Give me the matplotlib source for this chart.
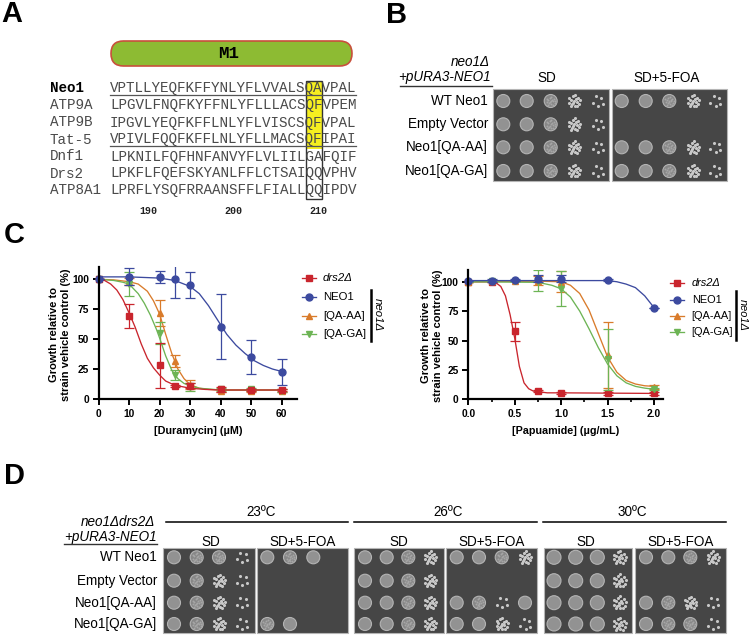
import matplotlib
matplotlib.use("Agg")
import matplotlib.pyplot as plt
from matplotlib.patches import Circle, FancyBboxPatch, Rectangle

plt.rcParams['font.family'] = ['Liberation Sans', 'DejaVu Sans']

# panel A alignment
seq_names = ["Neo1", "ATP9A", "ATP9B", "Tat-5", "Dnf1", "Drs2", "ATP8A1"]
seqs = ["VPTLLYEQFKFFYNLYFLVVALSQAVPAL",
        "LPGVLFNQFKYFFNLYFLLLACSQFVPEM",
        "IPGVLYEQFKFFLNLYFLVISCSQFVPAL",
        "VPIVLFQQFKFFLNLYFLLMACSQFIPAI",
        "LPKNILFQFHNFANVYFLVLIILGAFQIF",
        "LPKFLFQEFSKYANLFFLCTSAIQQVPHV",
        "LPRFLYSQFRRAANSFFLFIALLQQIPDV"]
seq_ticks = ["190", "200", "210"]

# spot assays: 0 none, 1 few colonies, 2 many colonies, 3 textured, 4 full, 5 faint
strains_b = ["WT Neo1", "Empty Vector", "Neo1[QA-AA]", "Neo1[QA-GA]"]
b_sd = [[4, 4, 3, 2, 1], [4, 4, 3, 2, 1], [4, 4, 3, 2, 1], [4, 4, 3, 2, 1]]
b_foa = [[4, 4, 3, 2, 1], [0, 0, 0, 0, 0], [4, 4, 3, 2, 1], [4, 4, 3, 2, 1]]
d_23_sd = [[4, 3, 3, 1], [4, 3, 2, 1], [4, 3, 2, 1], [4, 3, 2, 1]]
d_23_foa = [[4, 3, 5, 0], [0, 0, 0, 0], [0, 0, 0, 0], [3, 5, 0, 0]]
d_26_sd = [[4, 4, 3, 2], [4, 4, 3, 2], [4, 4, 3, 2], [4, 4, 3, 2]]
d_26_foa = [[4, 4, 3, 2], [0, 0, 0, 0], [4, 3, 1, 5], [4, 4, 2, 1]]
d_30_sd = [[4, 4, 4, 2], [4, 4, 4, 2], [4, 4, 4, 2], [4, 4, 4, 2]]
d_30_foa = [[4, 4, 3, 2], [0, 0, 0, 0], [4, 3, 2, 1], [4, 3, 3, 1]]

# panel C left, duramycin
dura_x = [0, 10, 20, 25, 30, 40, 50, 60]
dura_drs2 = [100, 69.5, 28, 11, 11, 8, 7.5, 7.5]
dura_drs2_err = [0, 10, 19, 1, 2, 2, 1, 1]
dura_neo1 = [100, 102, 102, 100, 95, 60.5, 35, 22.5]
dura_neo1_err = [0, 7, 5, 16, 11, 27, 14, 11]
dura_aa = [100, 98, 72, 32, 12, 7, 7, 7]
dura_aa_err = [0, 3, 11, 5, 4, 1, 1, 1]
dura_ga = [100, 96, 55, 20, 10, 8, 8, 7]
dura_ga_err = [0, 10, 9, 4, 3, 1, 1, 1]

# fitted curves
dura_drs2_cx = [0, 2, 4, 6, 8, 10, 12, 14, 16, 18, 20, 22, 25, 30, 35, 40, 60]
dura_drs2_cy = [100, 99, 96, 91, 83, 72, 60, 46, 34, 26, 20, 15, 11.5, 9, 8, 7.5, 7.5]
dura_neo1_cx = [0, 5, 10, 15, 20, 25, 30, 33, 36, 39, 42, 45, 48, 51, 54, 57, 60]
dura_neo1_cy = [102, 102, 102, 101.5, 101, 99, 94, 88, 78, 66, 54, 45, 38, 32, 28, 25, 23]
dura_aa_cx = [0, 5, 10, 13, 16, 18, 20, 22, 24, 26, 28, 30, 33, 36, 40, 60]
dura_aa_cy = [100, 99.5, 98, 96, 90, 82, 71, 54, 38, 25, 17, 12, 9, 8, 7.5, 7.5]
dura_ga_cx = [0, 5, 8, 10, 13, 15, 17, 19, 20, 22, 24, 26, 28, 30, 33, 40, 60]
dura_ga_cy = [100, 99, 97.5, 96, 88, 80, 70, 58, 51, 36, 24, 17, 13, 11, 9, 7.5, 7.5]

# panel C right, papuamide
papu_x = [0, 0.25, 0.5, 0.75, 1, 1.5, 2]
papu_drs2 = [100, 100, 58, 7, 5.5, 5, 5]
papu_drs2_err = [0, 0, 8, 1, 1, 1, 1]
papu_neo1 = [100.5, 101, 101.5, 102.5, 102.5, 101.5, 78]
papu_neo1_err = [0, 1, 1, 3, 3, 1, 0]
papu_aa = [100, 100.5, 101, 101, 100, 38, 10.5]
papu_aa_err = [0, 0, 0, 4, 9, 28, 2]
papu_ga = [100, 100.5, 101, 101, 94, 34, 9]
papu_ga_err = [0, 0, 0, 9, 15, 26, 1]

papu_drs2_cx = [0, 0.25, 0.3, 0.35, 0.4, 0.45, 0.5, 0.55, 0.6, 0.65, 0.7, 0.75, 0.85, 1, 2]
papu_drs2_cy = [100, 100, 99, 96, 88, 72, 52, 28, 14, 9, 7, 6.5, 5.5, 5.5, 5]
papu_neo1_cx = [0, 1.5, 1.6, 1.7, 1.8, 1.9, 2]
papu_neo1_cy = [101, 101, 100, 98, 95, 88, 78]
papu_aa_cx = [0, 0.75, 1, 1.1, 1.2, 1.3, 1.4, 1.5, 1.6, 1.7, 1.8, 1.9, 2]
papu_aa_cy = [100, 100.5, 100, 97, 90, 76, 56, 36, 23, 16, 13, 11.5, 11]
papu_ga_cx = [0, 0.75, 0.9, 1, 1.1, 1.2, 1.3, 1.4, 1.5, 1.6, 1.7, 1.8, 1.9, 2]
papu_ga_cy = [100, 99.5, 97, 94, 87, 75, 60, 44, 30, 20, 14, 11, 9.5, 8.5]

legend_names = ["drs2Δ", "NEO1", "[QA-AA]", "[QA-GA]"]

RED, BLUE, ORANGE, GREEN = "#c9252d", "#3c4a9f", "#d97b2b", "#6db455"
MSIZE = {"s": 4.0, "o": 5.0, "^": 4.8, "v": 4.8}
MONO = "Liberation Mono"
LABEL = 13.5

# small fixed spread of colonies inside a spot, as fractions of its radius
COLONIES = [(-0.2, -0.7), (0.6, -0.5), (0.1, 0.7), (-0.7, 0.3), (0.8, 0.4), (0.0, 0.0),
            (-0.5, -0.2), (0.4, 0.1), (-0.3, 0.5), (0.3, -0.3), (-0.8, -0.4), (0.5, 0.8),
            (0.1, -0.9), (-0.1, 0.3), (0.9, -0.1), (-0.5, 0.8)]


def px(size):
    # font size given in image pixels
    return size * 0.72


fig = plt.figure(figsize=(7.5, 6.37), dpi=100)
bg = fig.add_axes([0, 0, 1, 1])
bg.set_xlim(0, 750)
bg.set_ylim(637, 0)
bg.axis("off")

for label, x, y in [("A", 12, 14), ("B", 396, 15), ("C", 14, 235), ("D", 14, 476)]:
    bg.text(x, y, label, fontsize=px(29), fontweight="bold", ha="center", va="center")

# panel A
bg.add_patch(FancyBboxPatch((111, 41), 241, 25, boxstyle="round,pad=0,rounding_size=12.5",
                            fc="#8dbb33", ec="#c8503c", lw=1.2))
bg.text(229, 53, "M1", family=MONO, fontweight="bold", fontsize=px(17.5), ha="center", va="center")
bg.add_patch(Rectangle((305.7, 81), 16, 68, fc="#f5ee20", ec="none"))

seq_rows = [88, 105.3, 122.5, 139.5, 156.5, 173.5, 190]
for i in range(len(seq_names)):
    bold = i == 0
    bg.text(50, seq_rows[i], seq_names[i], family=MONO, fontsize=px(14.2), ha="left", va="center",
            color="black" if bold else "#4a4a4a", fontweight="bold" if bold else "normal")
    bg.text(110, seq_rows[i], seqs[i], family=MONO, fontsize=px(14.2), ha="left", va="center",
            color="#4a4a4a")
bg.plot([110, 356], [95, 95], color="#555555", lw=0.9)
bg.plot([110, 356], [146, 146], color="#555555", lw=0.9)
bg.add_patch(Rectangle((305.7, 81), 16, 118, fc="none", ec="#333333", lw=1.0))
for label, x in zip(seq_ticks, [148, 233, 318]):
    bg.text(x, 211, label, family=MONO, fontweight="bold", fontsize=px(10), ha="center", va="center",
            color="#222222")


def draw_plate(x0, x1, y0, y1, cols, rows, levels, r):
    bg.add_patch(Rectangle((x0, y0), x1 - x0, y1 - y0, fc="#464646", ec="#b5b5b5", lw=0.8))
    for i in range(len(rows)):
        for j in range(len(cols)):
            level = levels[i][j]
            x, y = cols[j], rows[i]
            if level >= 3:
                bg.add_patch(Circle((x, y), r, fc="#878787" if level == 3 else "#929292",
                                    ec="#b4b4b4", lw=0.8))
                if level == 3:
                    sx = [x + r * 0.75 * c[0] for c in COLONIES]
                    sy = [y + r * 0.75 * c[1] for c in COLONIES]
                    bg.scatter(sx, sy, s=2, c="#a6a6a6", linewidths=0)
            elif level > 0:
                n = {1: 5, 2: 16, 5: 6}[level]
                col = "#6a6a6a" if level == 5 else "#c8c8c8"
                sx = [x + r * c[0] for c in COLONIES[:n]]
                sy = [y + r * c[1] for c in COLONIES[:n]]
                bg.scatter(sx, sy, s=5, c=col, linewidths=0)


# panel B
bg.text(490, 62, "neo1Δ", style="italic", fontsize=px(LABEL), ha="right", va="center")
bg.text(491, 77, "+pURA3-NEO1", style="italic", fontsize=px(LABEL), ha="right", va="center")
bg.plot([400, 492], [86, 86], color="#333333", lw=1.0)
bg.text(547, 78, "SD", fontsize=px(LABEL), ha="center", va="center")
bg.text(667, 78, "SD+5-FOA", fontsize=px(LABEL), ha="center", va="center")
b_rows = [101, 124.3, 147.3, 171]
for name, y in zip(strains_b, b_rows):
    bg.text(488, y, name, fontsize=px(LABEL), ha="right", va="center")
draw_plate(492.7, 609.3, 89.3, 181.3, [503.3, 526.7, 550.7, 574, 597.3], b_rows, b_sd, 6.5)
draw_plate(612.3, 726.7, 89.3, 181.3, [621.7, 645.7, 669.3, 693, 715], b_rows, b_foa, 6.5)

# panel D
bg.text(155, 521.5, "neo1Δdrs2Δ", style="italic", fontsize=px(LABEL), ha="right", va="center")
bg.text(157, 537, "+pURA3-NEO1", style="italic", fontsize=px(LABEL), ha="right", va="center")
bg.plot([64, 157], [544, 544], color="#333333", lw=1.0)
d_rows = [557.3, 580.7, 602.7, 624]
for name, y in zip(strains_b, d_rows):
    bg.text(157, y, name, fontsize=px(LABEL), ha="right", va="center")
temps = ["23ºC", "26ºC", "30ºC"]
for t, x0, x1, xt in zip(temps, [166, 354, 543], [348, 537, 726], [261, 448, 632.7]):
    bg.text(xt, 512, t, fontsize=px(LABEL), ha="center", va="center")
    bg.plot([x0, x1], [521.7, 521.7], color="black", lw=1.1)
for x in [211, 399, 586]:
    bg.text(x, 541.5, "SD", fontsize=px(LABEL), ha="center", va="center")
for x in [303, 491.7, 680.7]:
    bg.text(x, 541.5, "SD+5-FOA", fontsize=px(LABEL), ha="center", va="center")
draw_plate(163.3, 255, 547.7, 633.3, [174, 196.7, 219, 241.7], d_rows, d_23_sd, 6.5)
draw_plate(256.7, 348.3, 547.7, 633.3, [267.3, 290, 313.3, 336.7], d_rows, d_23_foa, 6.5)
draw_plate(354, 444.3, 547.7, 633.3, [365, 386.7, 408.3, 430], d_rows, d_26_sd, 6.5)
draw_plate(446, 537, 547.7, 633.3, [456.7, 479, 501.7, 525], d_rows, d_26_foa, 6.5)
draw_plate(543.7, 632.3, 547.7, 633.3, [554, 575.7, 597.3, 619.3], d_rows, d_30_sd, 7)
draw_plate(634.7, 726.3, 547.7, 633.3, [646, 668.3, 690.3, 712.7], d_rows, d_30_foa, 6.5)


def curve_panel(rect, xlim, xticks, xminor, xfmt, xlabel, series, label_x):
    ax = fig.add_axes(rect)
    ax.patch.set_alpha(0)
    ax.set_xlim(*xlim)
    ax.set_ylim(0, 110)
    for side in ["top", "right"]:
        ax.spines[side].set_visible(False)
    for side in ["left", "bottom"]:
        ax.spines[side].set_linewidth(1.6)
    ax.set_xticks(xticks)
    ax.set_xticks(xminor, minor=True)
    ax.set_xticklabels([xfmt % v for v in xticks])
    ax.set_yticks([0, 25, 50, 75, 100])
    ax.tick_params(axis="both", which="major", width=1.4, length=4, pad=3, labelsize=px(10.2))
    ax.tick_params(axis="x", which="minor", width=1.2, length=2.5)
    for lab in ax.get_xticklabels() + ax.get_yticklabels():
        lab.set_fontweight("bold")
    for cx, cy, x, y, err, color, marker in series:
        ax.plot(cx, cy, color=color, lw=0.95, clip_on=False)
        ax.errorbar(x, y, yerr=err, fmt="none", ecolor=color, elinewidth=0.9, capsize=3.5, capthick=0.9)
        ax.plot(x, y, ls="none", marker=marker, color=color, ms=MSIZE[marker], clip_on=False)
    ax.set_xlabel(xlabel, fontweight="bold", fontsize=px(10.8), labelpad=5)
    ax.set_ylabel("Growth relative to\nstrain vehicle control (%)", fontweight="bold",
                  fontsize=px(11.1), linespacing=1.3)
    ax.yaxis.set_label_coords(label_x, 0.49)
    return ax


curve_panel([98.5 / 750, 1 - 399 / 637, 198.5 / 750, 131.7 / 637], (0, 65),
            [0, 10, 20, 30, 40, 50, 60], [], "%d", "[Duramycin] (µM)",
            [(dura_aa_cx, dura_aa_cy, dura_x, dura_aa, dura_aa_err, ORANGE, "^"),
             (dura_ga_cx, dura_ga_cy, dura_x, dura_ga, dura_ga_err, GREEN, "v"),
             (dura_drs2_cx, dura_drs2_cy, dura_x, dura_drs2, dura_drs2_err, RED, "s"),
             (dura_neo1_cx, dura_neo1_cy, dura_x, dura_neo1, dura_neo1_err, BLUE, "o")], -0.139)

curve_panel([468.3 / 750, 1 - 399.3 / 637, 195 / 750, 129.3 / 637], (0, 2.1),
            [0, 0.5, 1.0, 1.5, 2.0], [0.25, 0.75, 1.25, 1.75], "%.1f", "[Papuamide] (µg/mL)",
            [(papu_drs2_cx, papu_drs2_cy, papu_x, papu_drs2, papu_drs2_err, RED, "s"),
             (papu_aa_cx, papu_aa_cy, papu_x, papu_aa, papu_aa_err, ORANGE, "^"),
             (papu_ga_cx, papu_ga_cy, papu_x, papu_ga, papu_ga_err, GREEN, "v"),
             (papu_neo1_cx, papu_neo1_cy, papu_x, papu_neo1, papu_neo1_err, BLUE, "o")], -0.13)

# hand placed legends with the neo1Δ bar
markers = [(RED, "s"), (BLUE, "o"), (ORANGE, "^"), (GREEN, "v")]
for lx0, lx1, tx, rows, bar_x, bar_y, nx, fs in [
        (301.7, 316, 323, [278.3, 297, 315.7, 334], 370.7, (290, 341), 378, 11.4),
        (670, 684, 691.7, [283.3, 299.7, 315.7, 331.7], 736, (291, 340), 743, 11.0)]:
    for i in range(4):
        bg.plot([lx0, lx1], [rows[i], rows[i]], color=markers[i][0], lw=0.95)
        bg.plot([(lx0 + lx1) / 2], [rows[i]], marker=markers[i][1], color=markers[i][0],
                ms=MSIZE[markers[i][1]])
        bg.text(tx, rows[i], legend_names[i], fontsize=px(fs), ha="left", va="center",
                style="italic" if i == 0 else "normal")
    bg.plot([bar_x, bar_x], bar_y, color="black", lw=1.8)
    bg.text(nx, 315, "neo1Δ", style="italic", fontsize=px(fs), rotation=270, ha="center", va="center")

fig.savefig("out.png", dpi=100)
